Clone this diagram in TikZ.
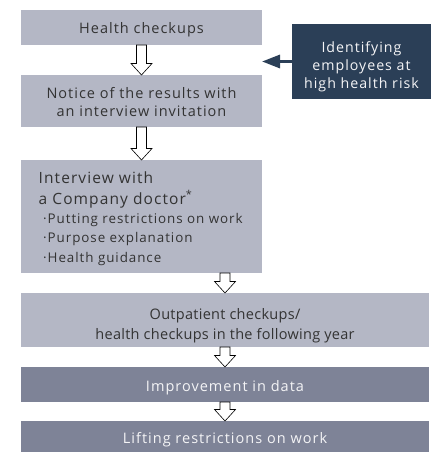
\documentclass[tikz,border=0pt]{standalone}
\usepackage{fontspec}
\setmainfont{Open Sans}[LetterSpace=7]
\usetikzlibrary{arrows.meta,calc}
\definecolor{boxlight}{HTML}{B4B7C5}
\definecolor{boxmid}{HTML}{7E8397}
\definecolor{boxdeep}{HTML}{2B3F57}
\definecolor{inkdark}{HTML}{333333}
\definecolor{inklight}{HTML}{F4F4F6}

% hollow block arrow dropping from node #1 onto the centre line of node #2
\newcommand\flowarrow[2]{%
  \draw[hollowarrow] let \p1=(#1.south -| #2.north), \p2=(#2.north) in
    (\x1-5pt,\y1) -- (\x1+5pt,\y1) -- (\x1+5pt,\y2+11.5pt) -- (\x1+10.5pt,\y2+11.5pt)
    -- (\x2,\y2) -- (\x1-10.5pt,\y2+11.5pt) -- (\x1-5pt,\y2+11.5pt) -- cycle;}

\begin{document}
\begin{tikzpicture}[x=1pt,y=-1pt,
  box/.style={rectangle, inner sep=0pt, outer sep=0pt, anchor=north west},
  lightbox/.style={box, fill=boxlight},
  midbox/.style={box, fill=boxmid},
  deepbox/.style={box, fill=boxdeep},
  darkcaption/.style={inner sep=0pt, align=center, text=inkdark, font=\fontsize{14.5}{18}\selectfont},
  lightcaption/.style={darkcaption, text=inklight},
  hollowarrow/.style={draw=black, line width=0.6pt, fill=white, line join=miter},
  notetext/.style={anchor=base west, inner sep=0pt, align=left, text=inkdark}]
\useasboundingbox (0,0) rectangle (431,452);

% boxes of the flow, each with its caption
\node[lightbox, minimum width=241pt, minimum height=35pt,
  label={[darkcaption, yshift=-2pt]center:Health checkups}] (checkups) at (21,10) {};
\node[lightbox, minimum width=241pt, minimum height=52pt,
  label={[darkcaption, yshift=-1.5pt]center:Notice of the results with\\an interview invitation}]
  (notice) at (21,75) {};
\node[lightbox, minimum width=241pt, minimum height=113pt] (interview) at (21,160) {};
\node[deepbox, minimum width=139pt, minimum height=75pt,
  label={[lightcaption, font=\fontsize{14.2}{18}\selectfont, yshift=-5pt]center:Identifying\\employees at\\high health risk}]
  (risk) at (292,24) {};
\node[lightbox, minimum width=408pt, minimum height=54pt,
  label={[darkcaption, font=\fontsize{14.5}{20.5}\selectfont\addfontfeatures{LetterSpace=2}, yshift=-5.5pt]center:Outpatient checkups/\\health checkups in the following year}]
  (outpatient) at (21,293) {};
\node[midbox, minimum width=408pt, minimum height=35pt,
  label={[lightcaption, yshift=-3.5pt]center:Improvement in data}] (improve) at (21,367) {};
\node[midbox, minimum width=408pt, minimum height=31pt,
  label={[lightcaption, yshift=-3pt]center:Lifting restrictions on work}] (lifting) at (21,421) {};

% contents of the interview box
\node[notetext, font=\fontsize{15.5}{21}\selectfont] (ivtitle) at ($(interview.north west)+(17.5,44)$)
  {Interview with\\a Company doctor\textsuperscript{*}};
\node[notetext, font=\fontsize{13.4}{19.5}\selectfont] (ivlist) at ($(interview.north west)+(22,102)$)
  {·Putting restrictions on work\\·Purpose explanation\\·Health guidance};

% flow arrows
\flowarrow{checkups}{notice}
\flowarrow{notice}{interview}
\flowarrow{interview}{outpatient}
\flowarrow{outpatient}{improve}
\flowarrow{improve}{lifting}

\draw[boxdeep, line width=3pt, -{Triangle[length=18pt,width=13pt]}]
  (risk.west) -- (risk.west -| notice.east);
\end{tikzpicture}
\end{document}
